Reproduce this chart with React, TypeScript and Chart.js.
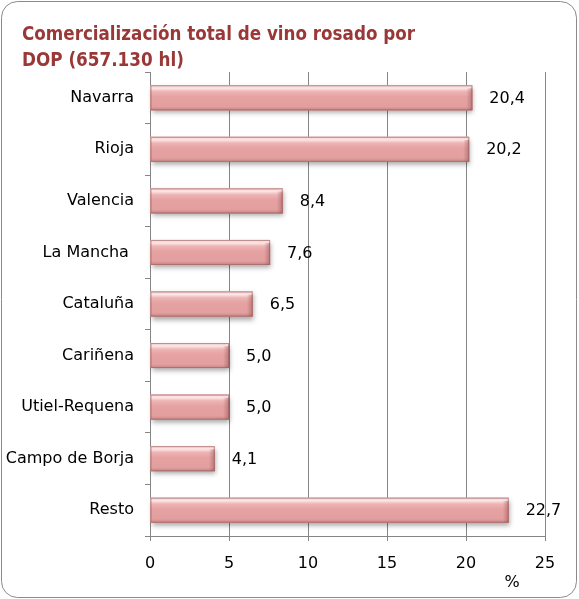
import React, { useEffect, useRef } from "react";
import { Chart, registerables } from "chart.js";

Chart.register(...registerables);

const categories = [
  "Navarra",
  "Rioja",
  "Valencia",
  "La Mancha ",
  "Cataluña",
  "Cariñena",
  "Utiel-Requena",
  "Campo de Borja",
  "Resto",
];
const values = [20.4, 20.2, 8.4, 7.6, 6.5, 5.0, 5.0, 4.1, 22.7];
const titleLines = ["Comercialización total de vino rosado por", "DOP (657.130 hl)"];
const xTicks = [0, 5, 10, 15, 20, 25];
const unitLabel = "%";

const FONT = "'DejaVu Sans', sans-serif";
const GRID = "#858585";

const decorPlugin = {
  id: "decor",
  beforeDraw(chart: any) {
    const ctx = chart.ctx;
    ctx.save();
    ctx.fillStyle = "#ffffff";
    ctx.fillRect(0, 0, chart.width, chart.height);
    ctx.restore();
  },
  afterDatasetsDraw(chart: any) {
    const ctx = chart.ctx;
    const meta = chart.getDatasetMeta(0);
    meta.data.forEach((bar: any, i: number) => {
      const left = Math.min(bar.base, bar.x);
      const right = Math.max(bar.base, bar.x);
      const top = bar.y - bar.height / 2;
      const h = bar.height;
      const w = right - left;
      // shadow
      ctx.save();
      ctx.shadowColor = "rgba(0,0,0,0.35)";
      ctx.shadowBlur = 5;
      ctx.shadowOffsetX = 1;
      ctx.shadowOffsetY = 3;
      ctx.fillStyle = "#e3a0a0";
      ctx.fillRect(left, top, w, h);
      ctx.restore();
      // body gradient
      ctx.save();
      const g = ctx.createLinearGradient(0, top, 0, top + h);
      g.addColorStop(0, "#f3cccc");
      g.addColorStop(0.12, "#fde6e6");
      g.addColorStop(0.25, "#eeb4b4");
      g.addColorStop(0.45, "#e6a2a2");
      g.addColorStop(0.85, "#e39e9e");
      g.addColorStop(1, "#c68585");
      ctx.fillStyle = g;
      ctx.fillRect(left, top, w, h);
      // right bevel
      const gr = ctx.createLinearGradient(right - 6, 0, right, 0);
      gr.addColorStop(0, "rgba(160,90,90,0)");
      gr.addColorStop(1, "rgba(150,85,85,0.55)");
      ctx.fillStyle = gr;
      ctx.fillRect(right - 6, top + 3, 6, h - 3);
      // outline
      ctx.strokeStyle = "rgba(150,95,95,0.6)";
      ctx.lineWidth = 1;
      ctx.strokeRect(left + 0.5, top + 0.5, w - 1, h - 1);
      ctx.restore();

      // value label
      ctx.save();
      ctx.font = "16px " + FONT;
      ctx.fillStyle = "#000000";
      ctx.textAlign = "left";
      ctx.textBaseline = "middle";
      const txt = values[i].toFixed(1).replace(".", ",");
      ctx.fillText(txt, right + 17, bar.y + 1);
      ctx.restore();
    });
  },
  afterDraw(chart: any) {
    const ctx = chart.ctx;
    ctx.save();
    // title
    ctx.font = "bold 19px 'DejaVu Sans Condensed', 'DejaVu Sans', sans-serif";
    ctx.fillStyle = "#9a3838";
    ctx.textAlign = "left";
    ctx.textBaseline = "alphabetic";
    ctx.fillText(titleLines[0], 22, 40, 393);
    ctx.fillText(titleLines[1], 22, 66, 162);
    // unit label
    ctx.font = "16px " + FONT;
    ctx.fillStyle = "#000000";
    ctx.textAlign = "center";
    ctx.textBaseline = "middle";
    ctx.fillText(unitLabel, 512, 583);
    // border
    ctx.strokeStyle = "#8a8a8a";
    ctx.lineWidth = 1;
    ctx.beginPath();
    (ctx as any).roundRect(1.5, 1.5, 575, 596, 16);
    ctx.stroke();
    ctx.restore();
  },
};

export default function App() {
  const ref = useRef<HTMLCanvasElement | null>(null);

  useEffect(() => {
    if (!ref.current) return;
    const chart = new Chart(ref.current, {
      type: "bar",
      data: {
        labels: categories,
        datasets: [
          {
            data: values,
            backgroundColor: "#e6a2a2",
            borderWidth: 0,
            barPercentage: 0.485,
            categoryPercentage: 1,
          },
        ],
      },
      options: {
        indexAxis: "y",
        responsive: false,
        animation: false,
        devicePixelRatio: 1,
        layout: { padding: { left: 0, top: 72, right: 34, bottom: 0 } },
        plugins: {
          legend: { display: false },
          tooltip: { enabled: false },
          title: { display: false },
        },
        scales: {
          x: {
            min: 0,
            max: 25,
            afterFit(scale: any) {
              scale.height = 63;
            },
            afterBuildTicks(scale: any) {
              scale.ticks = xTicks.map((v) => ({ value: v }));
            },
            grid: {
              display: true,
              color: GRID,
              lineWidth: 1,
              drawTicks: true,
              tickLength: 5,
              tickColor: GRID,
            },
            border: { display: true, color: GRID },
            ticks: {
              color: "#000000",
              font: { family: FONT, size: 16 },
              padding: 13,
              maxRotation: 0,
            },
          },
          y: {
            afterFit(scale: any) {
              scale.width = 150;
            },
            grid: {
              display: true,
              offset: true,
              drawOnChartArea: false,
              drawTicks: true,
              tickLength: 5,
              color: GRID,
              tickColor: GRID,
            },
            border: { display: true, color: GRID },
            ticks: {
              color: "#000000",
              font: { family: FONT, size: 16 },
              padding: 11,
              autoSkip: false,
            },
          },
        },
      },
      plugins: [decorPlugin],
    });
    return () => chart.destroy();
  }, []);

  return (
    <div style={{ position: "absolute", left: 0, top: 0, width: 579, height: 599, background: "#fff" }}>
      <canvas ref={ref} width={579} height={599} style={{ display: "block", width: 579, height: 599 }} />
    </div>
  );
}
